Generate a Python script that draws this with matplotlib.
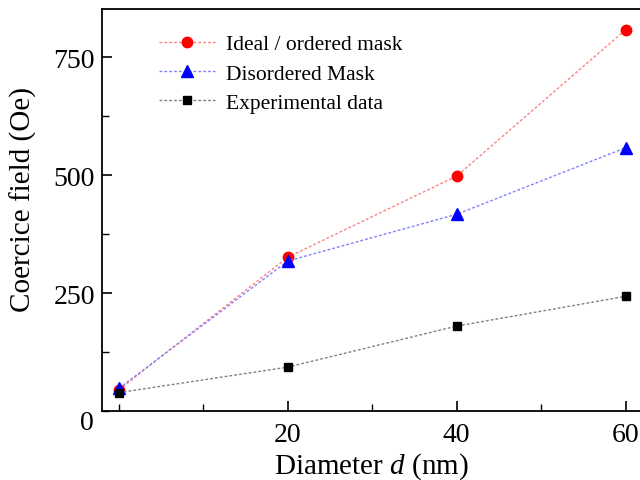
import matplotlib.pyplot as plt
from matplotlib.ticker import MultipleLocator

plt.rcParams['font.family'] = ['Liberation Serif', 'DejaVu Serif']
plt.rcParams['mathtext.fontset'] = 'custom'
plt.rcParams['mathtext.it'] = 'Liberation Serif:italic'
plt.rcParams['mathtext.rm'] = 'Liberation Serif'

# data
diameter = [0, 20, 40, 60]
ideal = [45, 326, 498, 808]
disordered = [48, 318, 417, 558]
experimental = [39, 93, 180, 243]

fig = plt.figure(figsize=(6.4, 4.81), dpi=100)
ax = fig.add_axes([102/640, 69/481, 538/640, 402/481])

ax.plot(diameter, ideal, dashes=(2, 1.5), lw=1.0, color='#ff8080', marker='o', ms=7.5,
        mfc='red', mec='red', label='Ideal / ordered mask')
ax.plot(diameter, disordered, dashes=(2, 1.5), lw=1.0, color='#8080ff', marker='^', ms=8.5,
        mfc='blue', mec='blue', label='Disordered Mask')
ax.plot(diameter, experimental, dashes=(2, 1.5), lw=1.0, color='#808080', marker='s', ms=6,
        mfc='black', mec='black', label='Experimental data')

ax.set_xlim(-2, 61.7)
ax.set_ylim(0, 852)
ax.xaxis.set_major_locator(MultipleLocator(20))
ax.xaxis.set_minor_locator(MultipleLocator(10))
ax.yaxis.set_major_locator(MultipleLocator(250))
ax.yaxis.set_minor_locator(MultipleLocator(125))
ax.tick_params(which='both', direction='in', top=False, right=False, labelsize=20)
ax.tick_params(which='major', length=7, width=1.2)
ax.tick_params(which='minor', length=5, width=1.0)
ax.tick_params(axis='x', pad=8)
ax.tick_params(axis='y', pad=5)
ax.set_xticks([20, 40, 60])
ax.set_yticks([250, 500, 750])
ax.spines['right'].set_visible(False)
for s in ['left', 'bottom', 'top']:
    ax.spines[s].set_linewidth(1.3)

# shared origin label
ax.text(-8/538, -12/402, '0', transform=ax.transAxes, fontsize=20,
        ha='right', va='center')

ax.set_xlabel('Diameter $d$ (nm)', fontsize=21, labelpad=2)
ax.set_ylabel('Coercice field (Oe)', fontsize=21)
ax.yaxis.set_label_coords(-65/538, 212/402)

ax.legend(loc='upper left', bbox_to_anchor=(0.07, 0.985), frameon=False,
          fontsize=15.5, handlelength=2.6, handletextpad=0.5, labelspacing=0.42,
          numpoints=1, markerfirst=True)

fig.savefig('out.png', dpi=100)
